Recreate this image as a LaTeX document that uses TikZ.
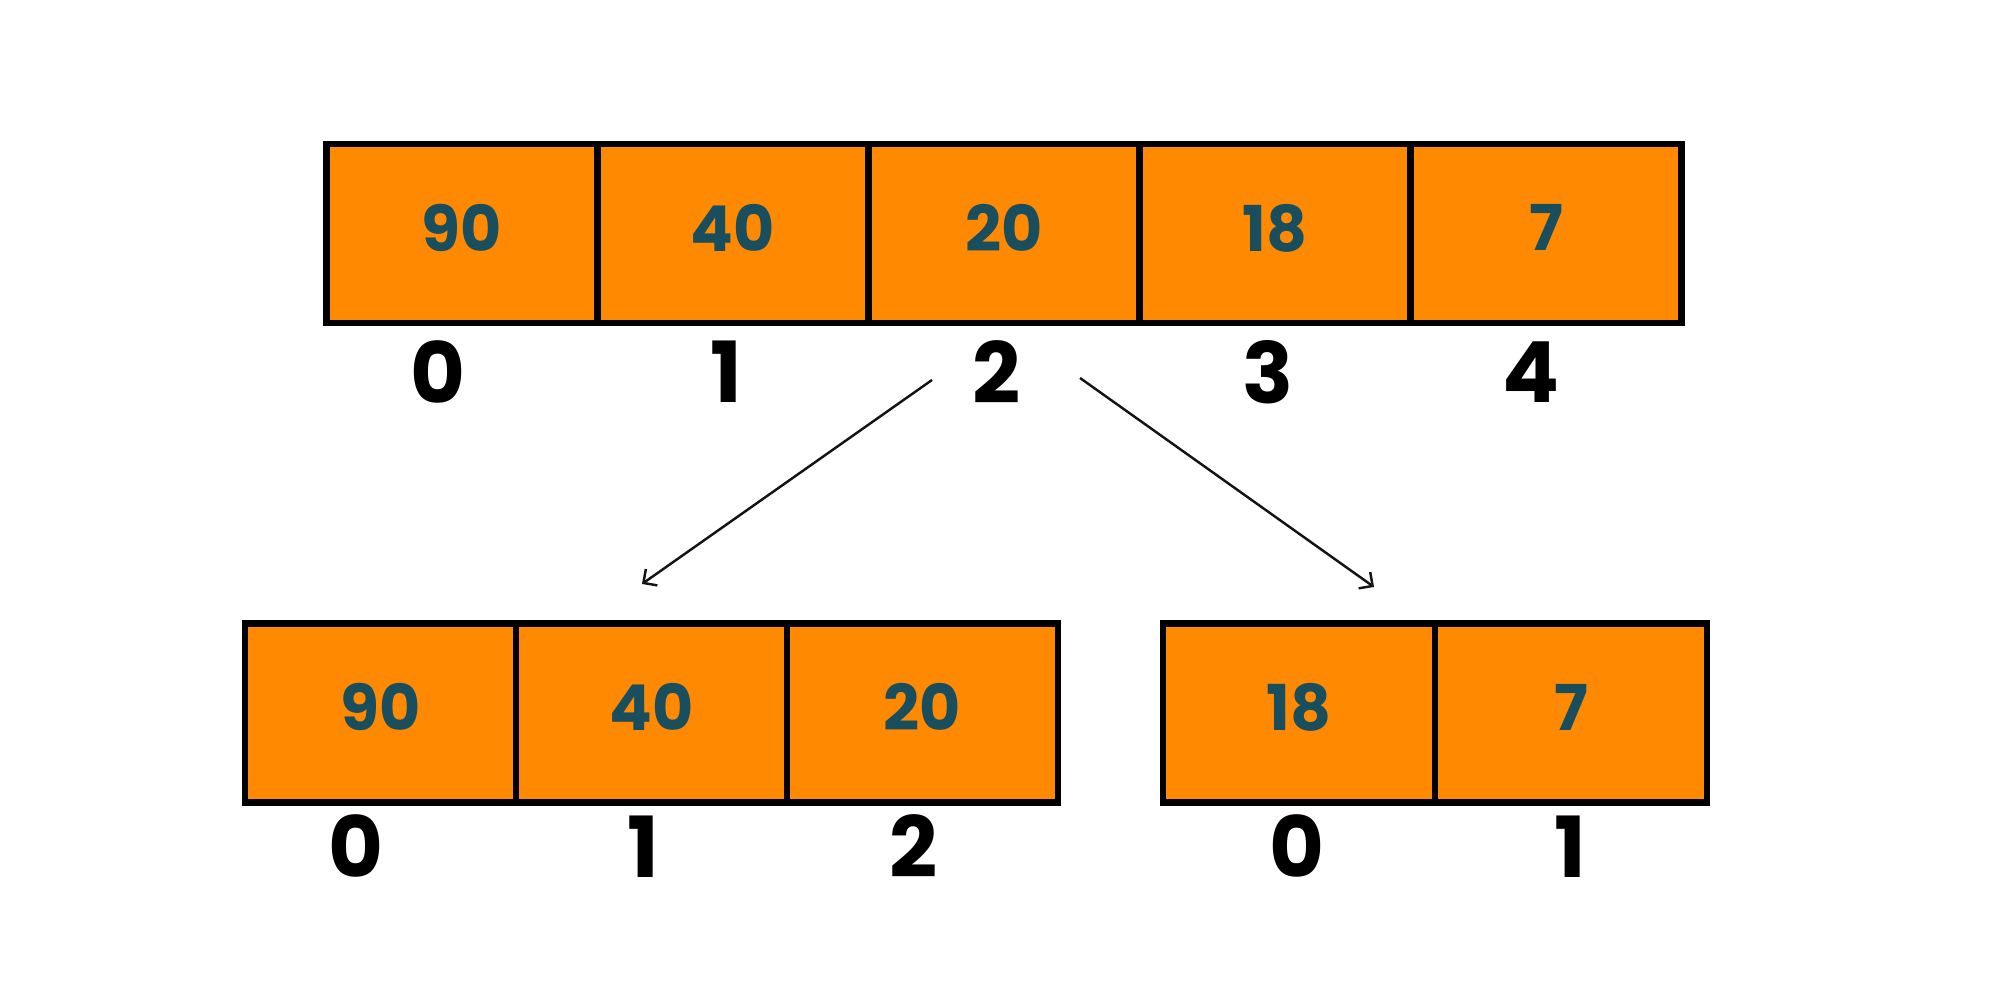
\documentclass[tikz,border=0pt]{standalone}
\usepackage{fontspec}
\setmainfont{Poppins}
\usepackage{tikz}
\usetikzlibrary{arrows.meta, positioning}
\definecolor{cellorange}{RGB}{255,137,0}
\definecolor{valteal}{RGB}{24,78,94}
\definecolor{mydark}{RGB}{20,20,20}
\tikzset{
  cell/.style={rectangle, draw=black, fill=cellorange,
    minimum width=2.71cm, minimum height=1.79cm,
    line width=1.8pt, outer sep=0pt, inner sep=0pt, text depth=0.12cm,
    font=\fontsize{18}{18}\selectfont\bfseries, text=valteal},
  idx/.style={inner sep=0pt, font=\fontsize{24}{24}\selectfont\bfseries, text=black},
  arrow/.style={-{Straight Barb[length=1mm, width=2mm]}, line width=0.7pt, color=mydark}
}

\begin{document}
\begin{tikzpicture}
  \useasboundingbox (0,0) rectangle (20,10);
  % Full array
  \node[cell] (t0) at (4.62,7.665) {90};
  \node[cell, right=0pt of t0] (t1) {40};
  \node[cell, right=0pt of t1] (t2) {20};
  \node[cell, right=0pt of t2] (t3) {18};
  \node[cell, right=0pt of t3] (t4) {7};
  % Full array indices
  \node[idx] (ti0) at ([xshift=-0.24cm, yshift=-0.49cm]t0.south) {0};
  \node[idx] (ti1) at ([xshift=-0.07cm, yshift=-0.49cm]t1.south) {1};
  \node[idx] (ti2) at ([xshift=-0.07cm, yshift=-0.49cm]t2.south) {2};
  \node[idx] (ti3) at ([xshift=-0.07cm, yshift=-0.49cm]t3.south) {3};
  \node[idx] (ti4) at ([xshift=-0.15cm, yshift=-0.49cm]t4.south) {4};
  % Left half
  \node[cell] (b0) at (3.805,2.87) {90};
  \node[cell, right=0pt of b0] (b1) {40};
  \node[cell, right=0pt of b1] (b2) {20};
  \node[idx] (bi0) at ([xshift=-0.25cm, yshift=-0.44cm]b0.south) {0};
  \node[idx] (bi1) at ([xshift=-0.08cm, yshift=-0.44cm]b1.south) {1};
  \node[idx] (bi2) at ([xshift=-0.09cm, yshift=-0.44cm]b2.south) {2};
  % Right half
  \node[cell, minimum width=2.72cm] (c0) at (12.99,2.87) {18};
  \node[cell, minimum width=2.72cm, right=0pt of c0] (c1) {7};
  \node[idx] (ci0) at ([xshift=-0.02cm, yshift=-0.44cm]c0.south) {0};
  \node[idx] (ci1) at ([xshift=-0.01cm, yshift=-0.44cm]c1.south) {1};
  % Split arrows
  \coordinate (lstart) at (9.32,6.20);
  \coordinate (lend) at (6.42,4.16);
  \coordinate (rstart) at (10.80,6.22);
  \coordinate (rend) at (13.74,4.13);
  \draw[arrow] (lstart) -- (lend);
  \draw[arrow] (rstart) -- (rend);
\end{tikzpicture}
\end{document}
